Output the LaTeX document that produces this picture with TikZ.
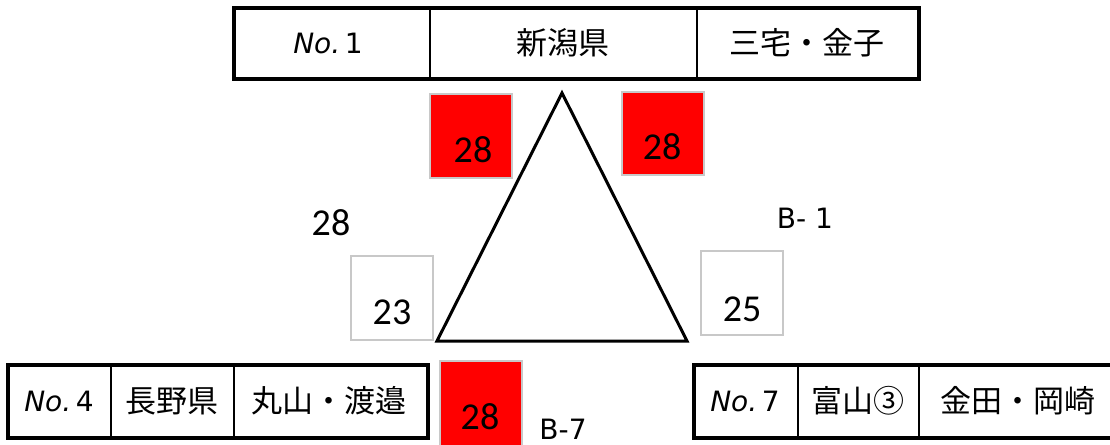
\documentclass[tikz,border=0pt]{standalone}
\usepackage{fontspec}
\setmainfont{DejaVu Sans}
\newfontfamily\jpf{Noto Sans CJK JP}
\newfontfamily\dvf{DejaVu Sans}
\newfontfamily\calf{Carlito}
\definecolor{boxgray}{RGB}{200,200,200}
\definecolor{redfill}{RGB}{255,0,0}
\tikzset{
  outerbox/.style={draw=black, line width=4pt},
  innerline/.style={draw=black, line width=2pt},
  redbox/.style={draw=boxgray, line width=1.5pt, fill=redfill},
  whitebox/.style={draw=boxgray, line width=1.5pt, fill=white},
  numtxt/.style={font=\calf\fontsize{38}{40}\selectfont, inner sep=0pt},
  celltxt/.style={font=\dvf\fontsize{28}{30}\selectfont, inner sep=0pt},
  jptxt/.style={font=\jpf\fontsize{31}{33}\selectfont, inner sep=0pt},
  btxt/.style={font=\dvf\fontsize{28}{30}\selectfont, inner sep=0pt},
  tri/.style={draw=black, line width=3pt, line join=miter}
}
\begin{document}
\begin{tikzpicture}[x=1pt,y=-1pt]
\useasboundingbox (0,0) rectangle (1110,444);
\clip (0,0) rectangle (1110,444);
% top table
\draw[outerbox] (234,8) rectangle (919,79);
\draw[innerline] (430,8) -- (430,79);
\draw[innerline] (697,8) -- (697,79);
\node[celltxt] (t1) at (328,43) {\textit{No.}\,1};
\node[jptxt] (t2) at (563,43) {新潟県};
\node[jptxt] (t3) at (807,43) {三宅・金子};
% triangle
\coordinate (apex) at (562,93);
\coordinate (bl) at (437,341);
\coordinate (br) at (687,341);
\draw[tri] (apex) -- (bl) -- (br) -- cycle;
% red squares
\draw[redbox] (430,94) rectangle (512,178);
\node[numtxt] (r1) at (473,150) {28};
\draw[redbox] (622,92) rectangle (704,175);
\node[numtxt] (r2) at (662,147) {28};
\draw[redbox] (440,361) rectangle (522,460);
\node[numtxt] (r3) at (480,417) {28};
% white boxes
\draw[whitebox] (351,256) rectangle (433,340);
\node[numtxt] (w1) at (392,312) {23};
\draw[whitebox] (701,251) rectangle (783,335);
\node[numtxt] (w2) at (742,309) {25};
% free labels
\node[numtxt] (l28) at (331,223) {28};
\node[btxt] (lb1) at (805,218) {B- 1};
\node[btxt] (lb7) at (563,429) {B-7};
% bottom left table
\draw[outerbox] (8,365) rectangle (428,438);
\draw[innerline] (111,365) -- (111,438);
\draw[innerline] (234,365) -- (234,438);
\node[celltxt] (a1) at (59,401) {\textit{No.}\,4};
\node[jptxt] (a2) at (172,401) {長野県};
\node[jptxt] (a3) at (329,401) {丸山・渡邉};
% bottom right table
\draw[outerbox] (694,365) rectangle (1125,438);
\draw[innerline] (798,365) -- (798,438);
\draw[innerline] (919,365) -- (919,438);
\node[celltxt] (b1) at (745,401) {\textit{No.}\,7};
\node[jptxt] (b2) at (858,401) {富山③};
\node[jptxt] (b3) at (1018,401) {金田・岡崎};
\end{tikzpicture}
\end{document}
